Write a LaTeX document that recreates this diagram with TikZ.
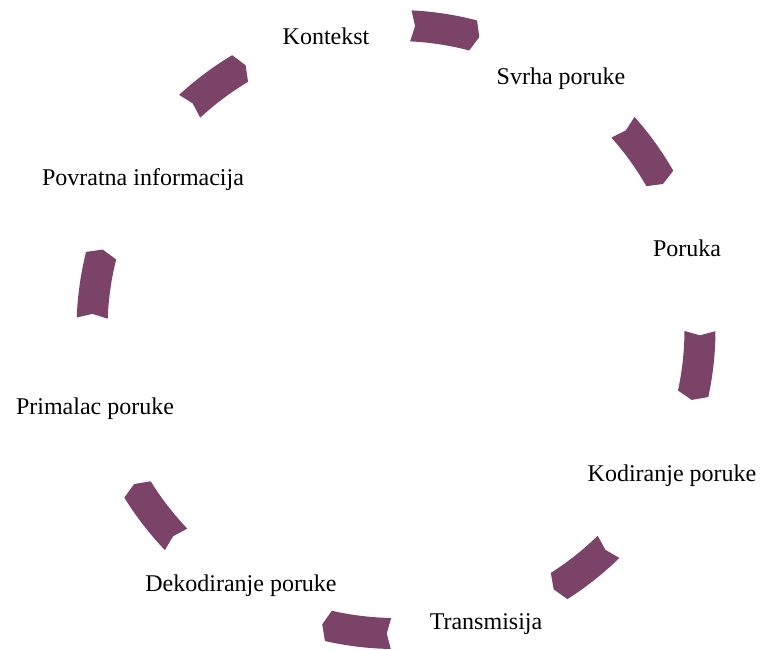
\documentclass[tikz,border=0pt]{standalone}
\usepackage{fontspec}
\setmainfont{Liberation Serif}
\definecolor{arrowpurple}{RGB}{123,67,103}
\tikzset{
  lbl/.style={anchor=base, inner sep=0pt, font=\fontsize{24}{29}\selectfont, text=black},
  cyclearrow/.style={fill=arrowpurple, draw=none}
}
\begin{document}
\begin{tikzpicture}[x=1pt,y=1pt]
\useasboundingbox (0,0) rectangle (760,-650);
\fill[white] (0,0) rectangle (760,-650);
\begin{scope}[shift={(396,-329.5)}]
\foreach \c in {81.25,35.75,-6.25,-51.6,-96.9,-142.3,171.9,126.8}{
  \pgfmathsetmacro{\ta}{\c+5.95}
  \pgfmathsetmacro{\ha}{\c-5.95}
  \pgfmathsetmacro{\tip}{\c-7.15}
  \pgfmathsetmacro{\notch}{\c+5.15}
  \fill[cyclearrow] (\ta:319.5pt) arc[start angle=\ta, end angle=\ha, radius=319.5pt]
    -- (\tip:304pt) -- (\ha:288.5pt)
    arc[start angle=\ha, end angle=\ta, radius=288.5pt]
    -- (\notch:304pt) -- cycle;
}
\end{scope}
\node[lbl] (kontekst) at (326,-45) {Kontekst};
\node[lbl] (svrha) at (561,-85) {Svrha poruke};
\node[lbl] (poruka) at (687,-256) {Poruka};
\node[lbl] (kodiranje) at (672,-481) {Kodiranje poruke};
\node[lbl] (transmisija) at (486,-629) {Transmisija};
\node[lbl] (dekodiranje) at (241,-591) {Dekodiranje poruke};
\node[lbl] (primalac) at (95,-414) {Primalac poruke};
\node[lbl] (povratna) at (143,-185) {Povratna informacija};
\end{tikzpicture}
\end{document}
